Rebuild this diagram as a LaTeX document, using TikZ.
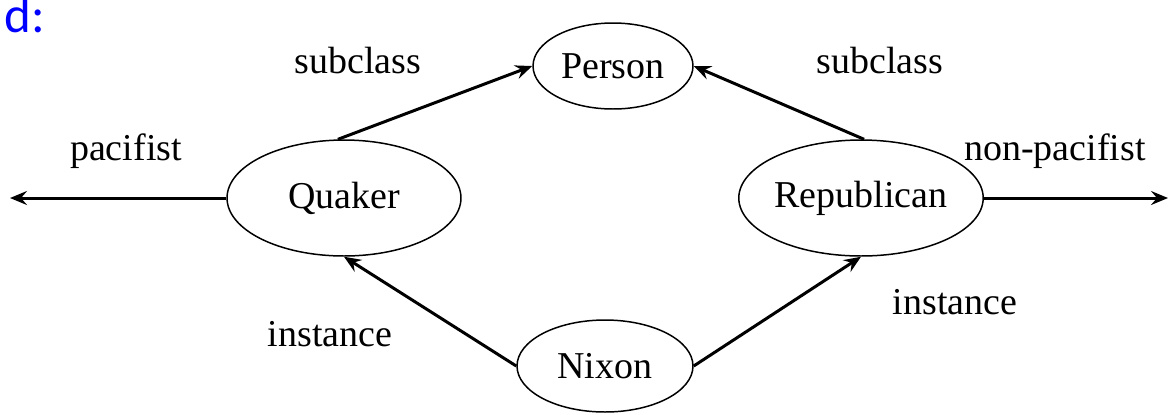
\documentclass[tikz,border=0pt]{standalone}
\usepackage{fontspec}
\setmainfont{Liberation Serif}
\newfontfamily\tagfont{Carlito}
\usetikzlibrary{shapes.geometric,arrows.meta}

\begin{document}
\begin{tikzpicture}[x=0.02cm, y=0.02cm,
  every node/.style={font=\fontsize{21.6}{26}\selectfont},
  oval/.style={draw, ellipse, line width=0.85pt, inner sep=0pt},
  link/.style={line width=1.7pt, -{Stealth[length=0.34cm,width=0.28cm,inset=0.12cm]}},
  rel/.style={anchor=base}]
\useasboundingbox (0,0) rectangle (1170,-414);
\node [anchor=base west, inner sep=0pt, text=blue, font=\tagfont\fontsize{29}{34}\selectfont] (tag) at (4,-32) {d:};
% the four classes
\node [oval, minimum width=3.2cm, minimum height=1.72cm] (person) at (613,-66) {Person};
\node [oval, minimum width=4.68cm, minimum height=2.32cm] (quaker) at (344,-198) {Quaker};
\node [oval, minimum width=4.44cm, minimum height=2.32cm] (republican) at (861,-198) {Republican};
\node [oval, minimum width=3.52cm, minimum height=1.84cm] (nixon) at (605,-366) {Nixon};
\coordinate (pacend) at (10,-198);
\coordinate (nonpacend) at (1168,-198);
% links
\draw [link] (quaker.96) -- (person.west);
\draw [link] (republican.87) -- (person.east);
\draw [link] (nixon.west) -- (quaker.south);
\draw [link] (nixon.east) -- (republican.south);
\draw [link] (quaker.west) -- (pacend);
\draw [link] (republican.east) -- (nonpacend);
% labels
\node [rel] (subl) at (358,-73) {subclass};
\node [rel] (subr) at (880,-73) {subclass};
\node [rel] (pac) at (126,-160) {pacifist};
\node [rel] (nonpac) at (1055,-160) {non-pacifist};
\node [rel] (instl) at (330,-346) {instance};
\node [rel] (instr) at (955,-314) {instance};
\end{tikzpicture}
\end{document}
